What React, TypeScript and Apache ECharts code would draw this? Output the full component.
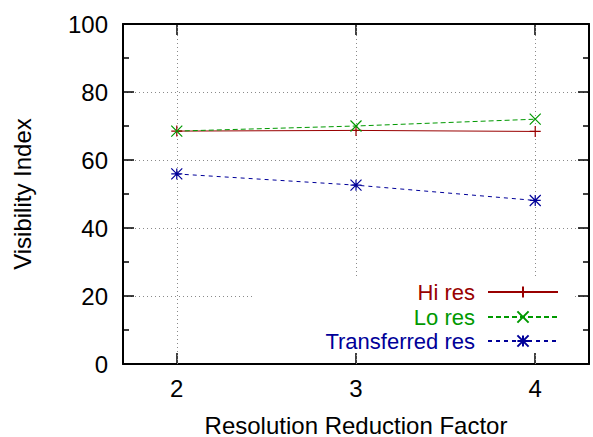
import React, { useEffect, useRef } from "react";
import * as echarts from "echarts";

const factors = [2, 3, 4];
const hiRes = [68.5, 68.7, 68.4];
const loRes = [68.5, 70.0, 72.0];
const transferredRes = [55.9, 52.6, 48.1];
const seriesNames = ["Hi res", "Lo res", "Transferred res"];
const yTicks = [0, 20, 40, 60, 80, 100];

const FONT = "'Liberation Sans', Arial, Helvetica, sans-serif";
const FS = 24;
const LEGEND_FS = 22;
const RED = "#990000";
const GREEN = "#009900";
const BLUE = "#000099";
const GRID_COLOR = "#8a8a8a";

const PLUS = "path://M5 0L5 10M0 5L10 5";
const CROSS = "path://M0 0L10 10M0 10L10 0";
const STAR = "path://M5 0L5 10M0 5L10 5M0 0L10 10M0 10L10 0";

const pairs = (ys: number[]) => factors.map((x, i) => [x, ys[i]]);

export default function App() {
  const ref = useRef<HTMLDivElement>(null);
  useEffect(() => {
    if (!ref.current) return;
    const chart = echarts.init(ref.current, null, { renderer: "svg" });
    const tickStyle = { color: "#000", width: 1.5 };
    const legendBase = (name: string, color: string, top: number) => ({
      data: [name],
      orient: "vertical",
      align: "right",
      right: 34,
      top,
      padding: 0,
      itemGap: 0,
      itemWidth: 70,
      itemHeight: 14,
      selectedMode: false,
      textStyle: { color, fontSize: LEGEND_FS, lineHeight: 20, fontFamily: FONT, padding: [0, 8, 0, 0] },
    });
    const mkSeries = (name: string, ys: number[], color: string, symbol: string, type: any, extra: any = {}) => ({
      name,
      type: "line",
      data: pairs(ys),
      symbol,
      symbolSize: 11,
      showSymbol: true,
      lineStyle: { color, width: 1, type },
      itemStyle: { color, borderColor: color, borderWidth: 1.2 },
      z: 2,
      ...extra,
    });
    chart.setOption({
      animation: false,
      backgroundColor: "#fff",
      textStyle: { fontFamily: FONT },
      grid: { left: 123, right: 4, top: 24, bottom: 73, containLabel: false, outerBoundsMode: "none" },
      xAxis: [
        {
          type: "value",
          position: "bottom",
          min: 1.7,
          max: 4.3,
          name: "Resolution Reduction Factor",
          nameLocation: "middle",
          nameGap: 49,
          nameTextStyle: { color: "#000", fontSize: FS, fontFamily: FONT },
          axisLine: { show: true, onZero: false, lineStyle: { color: "#000", width: 2 } },
          axisTick: { show: true, inside: true, length: 11, lineStyle: tickStyle, customValues: factors },
          axisLabel: { show: true, color: "#000", fontSize: FS, fontFamily: FONT, margin: 12, customValues: factors, formatter: (v: number) => String(v) },
          splitLine: { show: false },
        },
        {
          type: "value",
          position: "top",
          min: 1.7,
          max: 4.3,
          axisLine: { show: true, onZero: false, lineStyle: { color: "#000", width: 2 } },
          axisTick: { show: true, inside: true, length: 11, lineStyle: tickStyle, customValues: factors },
          axisLabel: { show: false, customValues: factors },
          splitLine: { show: false },
        },
      ],
      yAxis: [
        {
          type: "value",
          position: "left",
          min: 0,
          max: 100,
          interval: 20,
          name: "Visibility Index",
          nameLocation: "middle",
          nameGap: 89,
          nameRotate: 90,
          nameTextStyle: { color: "#000", fontSize: FS, fontFamily: FONT },
          axisLine: { show: true, onZero: false, lineStyle: { color: "#000", width: 2 } },
          axisTick: { show: true, inside: true, length: 11, lineStyle: tickStyle },
          minorTick: { show: true, splitNumber: 2, length: 6, lineStyle: tickStyle },
          axisLabel: { color: "#000", fontSize: FS, fontFamily: FONT, margin: 15, formatter: (v: number) => (yTicks.includes(v) ? String(v) : "") },
          splitLine: {
            show: true,
            showMinLine: false,
            showMaxLine: false,
            lineStyle: { color: GRID_COLOR, width: 1, type: [1, 3] },
          },
        },
        {
          type: "value",
          position: "right",
          min: 0,
          max: 100,
          interval: 20,
          axisLine: { show: true, onZero: false, lineStyle: { color: "#000", width: 2 } },
          axisTick: { show: true, inside: true, length: 11, lineStyle: tickStyle },
          minorTick: { show: true, splitNumber: 2, length: 6, lineStyle: tickStyle },
          axisLabel: { show: false },
          splitLine: { show: false },
        },
      ],
      legend: [
        legendBase(seriesNames[0], RED, 281),
        legendBase(seriesNames[1], GREEN, 306),
        legendBase(seriesNames[2], BLUE, 330),
      ],
      graphic: [
        {
          type: "rect",
          z: 3,
          silent: true,
          shape: { x: 253, y: 278, width: 320, height: 74 },
          style: { fill: "#fff" },
        },
      ],
      series: [
        mkSeries(seriesNames[0], hiRes, RED, PLUS, "solid", {
          markLine: {
            silent: true,
            symbol: ["none", "none"],
            label: { show: false },
            lineStyle: { color: GRID_COLOR, width: 1, type: [1, 3] },
            data: factors.map((f) => ({ xAxis: f })),
            z: 1,
          },
        }),
        mkSeries(seriesNames[1], loRes, GREEN, CROSS, [5, 3]),
        mkSeries(seriesNames[2], transferredRes, BLUE, STAR, [4, 4]),
      ],
    });
    return () => chart.dispose();
  }, []);
  return <div ref={ref} style={{ width: 593, height: 437, position: "absolute", left: 0, top: 0 }} />;
}
